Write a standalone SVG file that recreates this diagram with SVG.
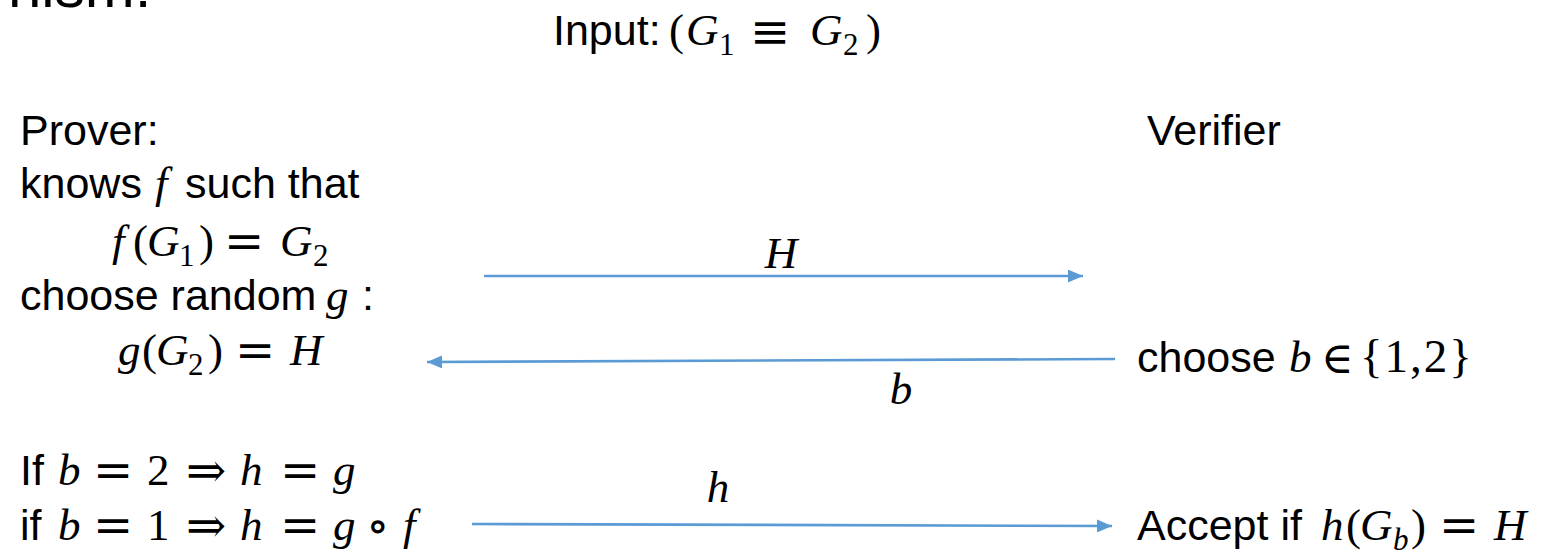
<svg xmlns="http://www.w3.org/2000/svg" width="1542" height="555" viewBox="0 0 1542 555">
<style>
.t{font-family:"Liberation Sans",Arial,sans-serif;font-size:43px;fill:#000}
.m{font-family:"Liberation Serif","Times New Roman",serif;font-size:45px}
.i{font-style:italic}
.o{font-family:"DejaVu Serif",serif;font-size:48px}
.s{font-family:"Liberation Serif","Times New Roman",serif;font-size:31px}
.a{stroke:#5B9BD5;stroke-width:2.6;fill:none}
</style>
<defs>
<marker id="ah" markerUnits="userSpaceOnUse" markerWidth="15" markerHeight="13" viewBox="0 0 15 13" refX="15" refY="6.5" orient="auto">
<path d="M0,0 L15,6.5 L0,13 z" fill="#5B9BD5"/>
</marker>
</defs>
<rect width="1542" height="555" fill="#fff"/>
<g id="title-cut"><text class="t" x="8" y="7" style="font-size:60px">nism:</text></g>
<g id="input"><text class="t" y="45"><tspan x="553" y="45">Input:</tspan><tspan class="m" x="669" y="45">(</tspan><tspan class="m i" x="686" y="45">G</tspan><tspan class="s" x="719" y="55">1</tspan><tspan class="o" x="750" y="48">≡</tspan><tspan class="m i" x="810" y="45">G</tspan><tspan class="s" x="843" y="55">2</tspan><tspan class="m" x="866" y="45">)</tspan></text></g>
<g id="prover">
<text class="t" x="20" y="145">Prover:</text>
<text class="t" y="198"><tspan x="20" y="198">knows</tspan><tspan class="m i" x="155" y="198">f</tspan><tspan x="185" y="198">such that</tspan></text>
<text class="t" y="256"><tspan class="m i" x="112" y="256">f</tspan><tspan class="m" x="133" y="256">(</tspan><tspan class="m i" x="147" y="256">G</tspan><tspan class="s" x="179" y="266">1</tspan><tspan class="m" x="199" y="256">)</tspan><tspan class="o" x="224" y="258">=</tspan><tspan class="m i" x="280" y="256">G</tspan><tspan class="s" x="313" y="266">2</tspan></text>
<text class="t" y="310"><tspan x="20" y="310">choose random</tspan><tspan class="m i" x="326" y="310">g</tspan><tspan x="362" y="310">:</tspan></text>
<text class="t" y="365"><tspan class="m i" x="118" y="365">g</tspan><tspan class="m" x="142" y="365">(</tspan><tspan class="m i" x="156" y="365">G</tspan><tspan class="s" x="188" y="375">2</tspan><tspan class="m" x="208" y="365">)</tspan><tspan class="o" x="235" y="367">=</tspan><tspan class="m i" x="290" y="365">H</tspan></text>
<text class="t" y="485"><tspan x="20" y="485">If</tspan><tspan class="m i" x="58" y="485">b</tspan><tspan class="o" x="93" y="487">=</tspan><tspan class="m" x="147" y="485">2</tspan><tspan class="o" x="186" y="487">⇒</tspan><tspan class="m i" x="240" y="485">h</tspan><tspan class="o" x="280" y="487">=</tspan><tspan class="m i" x="333" y="485">g</tspan></text>
<text class="t" y="540"><tspan x="20" y="540">if</tspan><tspan class="m i" x="58" y="540">b</tspan><tspan class="o" x="93" y="542">=</tspan><tspan class="m" x="147" y="540">1</tspan><tspan class="o" x="186" y="542">⇒</tspan><tspan class="m i" x="240" y="540">h</tspan><tspan class="o" x="280" y="542">=</tspan><tspan class="m i" x="333" y="540">g</tspan><tspan class="o" x="366" y="542">∘</tspan><tspan class="m i" x="403" y="540">f</tspan></text>
</g>
<g id="verifier">
<text class="t" x="1147" y="145">Verifier</text>
<text class="t" y="372"><tspan x="1137" y="372">choose</tspan><tspan class="m i" x="1289" y="372">b</tspan><tspan class="o" x="1321" y="373" style="font-size:44px">∈</tspan><tspan class="m" x="1360" y="372" style="font-size:47px;letter-spacing:2px">{1,2}</tspan></text>
<text class="t" y="540"><tspan x="1137" y="540">Accept if</tspan><tspan class="m i" x="1321" y="540">h</tspan><tspan class="m" x="1346" y="540">(</tspan><tspan class="m i" x="1360" y="540">G</tspan><tspan class="s i" x="1393" y="550">b</tspan><tspan class="m" x="1411" y="540">)</tspan><tspan class="o" x="1439" y="542">=</tspan><tspan class="m i" x="1494" y="540">H</tspan></text>
</g>
<g id="connectors">
<line class="a" x1="484" y1="276" x2="1083" y2="276" marker-end="url(#ah)"/>
<text class="m i" x="781" y="268" text-anchor="middle">H</text>
<line class="a" x1="1115" y1="359" x2="427" y2="362" marker-end="url(#ah)"/>
<text class="m i" x="901" y="404" text-anchor="middle">b</text>
<line class="a" x1="472" y1="524" x2="1112" y2="526" marker-end="url(#ah)"/>
<text class="m i" x="718" y="502" text-anchor="middle">h</text>
</g>
</svg>
